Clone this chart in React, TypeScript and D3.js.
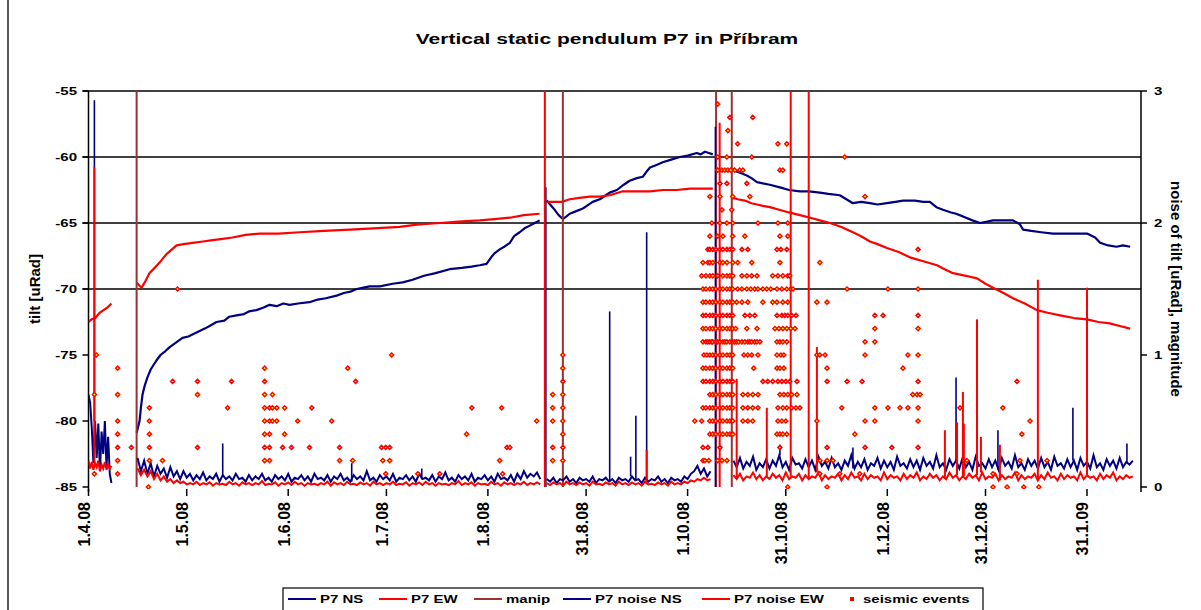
import React from 'react';
import * as d3 from 'd3';

const W = 1201;
const H = 610;

// day offsets are counted from 1.4.2008
const T0 = Date.UTC(2008, 3, 1);
const dayDate = (d: number) => new Date(T0 + d * 86400000);

const title = 'Vertical static pendulum P7 in Příbram';
const xTickLabels = ['1.4.08', '1.5.08', '1.6.08', '1.7.08', '1.8.08', '31.8.08', '1.10.08', '31.10.08', '1.12.08', '31.12.08', '31.1.09'];
const xDomainDays = [0, 321.5];
const leftTicks = [-55, -60, -65, -70, -75, -80, -85];
const gridValues = [-55, -60, -65, -70];
const rightTicks = [0, 1, 2, 3];

// tilt [uRad], [day, value]
const tiltNs: [number, number][][] = [
  [[14.7, -80.9], [15.2, -80.4], [15.6, -80.0], [16.0, -79.0], [16.5, -78.0], [17.2, -77.3], [18.0, -76.7], [19.0, -76.1], [20.0, -75.7], [20.8, -75.4], [22.0, -75.0], [23.5, -74.7], [24.8, -74.4], [26.5, -74.1], [28.7, -73.7], [30.5, -73.6], [33.0, -73.3], [35.5, -73.0], [37.0, -72.8], [39.1, -72.5], [41.5, -72.4], [43.0, -72.1], [45.2, -72.0], [47.5, -71.9], [49.0, -71.7], [51.3, -71.6], [53.5, -71.4], [55.3, -71.2], [57.5, -71.3], [59.5, -71.1], [61.4, -71.2], [64.0, -71.1], [67.5, -71.0], [70.0, -70.8], [72.5, -70.7], [75.8, -70.5], [78.0, -70.3], [80.0, -70.2], [81.9, -70.0], [84.0, -69.9], [85.9, -69.8], [89.0, -69.8], [92.9, -69.6], [96.0, -69.5], [99.0, -69.3], [102.5, -69.0], [106.0, -68.8], [110.3, -68.5], [114.0, -68.4], [117.0, -68.3], [119.5, -68.2], [121.6, -68.1], [123.0, -67.6], [124.0, -67.3], [125.6, -67.0], [127.0, -66.8], [128.7, -66.5], [130.0, -66.0], [131.7, -65.7], [133.2, -65.4], [134.8, -65.2], [136.3, -65.0], [137.8, -64.8]],
  [[140.0, -63.3], [141.0, -63.6], [142.4, -64.0], [143.6, -64.4], [144.9, -64.7], [146.0, -64.5], [147.0, -64.3], [149.0, -64.1], [151.0, -63.9], [152.2, -63.7], [154.0, -63.4], [156.2, -63.2], [158.0, -62.9], [159.2, -62.7], [161.4, -62.5], [163.5, -62.1], [165.3, -61.8], [167.5, -61.6], [169.3, -61.5], [170.5, -61.1], [171.5, -60.8], [173.5, -60.6], [175.4, -60.4], [178.0, -60.2], [180.6, -60.0], [183.0, -59.9], [185.8, -59.7], [187.0, -59.8], [188.3, -59.6], [189.5, -59.7], [190.7, -59.8]],
  [[196.8, -60.9], [198.0, -61.1], [199.0, -61.2], [201.1, -61.4], [202.5, -61.6], [204.2, -61.9], [206.0, -62.0], [208.1, -62.1], [211.2, -62.3], [214.0, -62.5], [217.3, -62.6], [220.0, -62.6], [223.4, -62.7], [226.0, -62.8], [229.5, -62.9], [231.5, -63.2], [233.5, -63.5], [236.0, -63.4], [238.7, -63.5], [241.0, -63.6], [243.9, -63.5], [246.5, -63.4], [248.8, -63.3], [252.4, -63.3], [255.0, -63.4], [257.0, -63.4], [259.0, -63.8], [261.0, -64.0], [263.5, -64.2], [265.0, -64.3], [267.1, -64.5], [270.0, -64.8], [272.3, -65.0], [274.5, -64.9], [276.3, -64.8], [279.5, -64.8], [282.4, -64.8], [284.5, -65.1], [285.5, -65.5], [288.0, -65.6], [291.0, -65.7], [294.6, -65.8], [298.0, -65.8], [301.5, -65.8], [305.0, -65.8], [307.5, -66.1], [309.0, -66.5], [311.5, -66.7], [314.0, -66.8], [316.0, -66.7], [318.2, -66.8]],
];

const tiltEw: [number, number][][] = [
  [[0, -72.5], [0.9, -72.3], [2.1, -72.2], [3.4, -71.8], [4.6, -71.6], [5.8, -71.4], [7.0, -71.1]],
  [[14.7, -69.5], [15.4, -69.7], [16.2, -69.9], [17.4, -69.4], [18.6, -68.8], [20.2, -68.4], [21.7, -68.0], [23.0, -67.6], [24.1, -67.3], [25.5, -67.0], [26.9, -66.7], [29.0, -66.6], [31.8, -66.5], [35.0, -66.4], [37.9, -66.3], [41.0, -66.2], [44.0, -66.1], [48.0, -65.9], [52.3, -65.8], [58.0, -65.8], [64.5, -65.7], [72.0, -65.6], [79.8, -65.5], [87.0, -65.4], [95.0, -65.3], [101.0, -65.1], [107.3, -65.0], [113.0, -64.9], [119.5, -64.8], [124.0, -64.7], [128.7, -64.6], [133.0, -64.4], [137.8, -64.3]],
  [[140.0, -63.4], [142.5, -63.4], [144.6, -63.4], [147.0, -63.2], [150.0, -63.1], [153.1, -63.0], [156.0, -63.0], [159.2, -62.9], [163.2, -62.6], [167.0, -62.6], [171.5, -62.6], [175.5, -62.5], [179.7, -62.5], [183.7, -62.4], [187.0, -62.4], [190.7, -62.4]],
  [[196.9, -63.1], [198.3, -63.2], [200.5, -63.3], [202.5, -63.5], [204.2, -63.6], [206.0, -63.7], [208.1, -63.8], [211.0, -64.0], [214.0, -64.2], [217.3, -64.4], [220.5, -64.6], [223.4, -64.8], [226.5, -65.0], [230.0, -65.3], [233.5, -65.7], [236.0, -66.0], [238.7, -66.4], [241.0, -66.6], [243.9, -66.9], [247.5, -67.2], [250.9, -67.6], [255.0, -67.9], [259.2, -68.2], [261.5, -68.5], [264.1, -68.8], [268.0, -69.0], [271.4, -69.2], [274.0, -69.6], [276.3, -69.9], [279.5, -70.3], [282.4, -70.7], [286.0, -71.1], [289.7, -71.6], [293.0, -71.8], [296.8, -72.0], [301.0, -72.2], [305.0, -72.3], [308.5, -72.5], [312.0, -72.6], [315.0, -72.8], [318.2, -73.0]],
];

// manipulation dates (day offsets)
const manipDays = [14.7, 144.9, 191.7, 196.5];

type NoiseSeg = { start: number; step: number; values: number[] };

// noise of tilt [uRad], right axis
const noiseNs: NoiseSeg[] = [
  { start: 0, step: 0.5, values: [0.7, 0.64, 0.45, 0.18, 0.5, 0.22, 0.48, 0.12, 0.42, 0.25, 0.5, 0.15, 0.38, 0.1, 0.03] },
  { start: 15, step: 1, values: [
    0.22, 0.12, 0.2, 0.1, 0.18, 0.08, 0.16, 0.1, 0.14, 0.07, 0.15, 0.08, 0.12, 0.06, 0.12, 0.07,
    0.1, 0.05, 0.09, 0.06, 0.11, 0.05, 0.08, 0.06, 0.1, 0.04,
    0.09, 0.06, 0.08, 0.05, 0.1, 0.06, 0.07, 0.04, 0.09, 0.05,
    0.08, 0.06, 0.1, 0.05, 0.07, 0.04, 0.09, 0.06, 0.08, 0.05,
    0.1, 0.04, 0.07, 0.06, 0.09, 0.05, 0.08, 0.04, 0.1, 0.06,
    0.07, 0.05, 0.09, 0.04, 0.08, 0.06, 0.1, 0.05, 0.07, 0.04,
    0.09, 0.06, 0.08, 0.05, 0.12, 0.05, 0.07, 0.04, 0.09, 0.06,
    0.08, 0.05, 0.1, 0.04, 0.07, 0.06, 0.09, 0.05, 0.08, 0.04,
    0.1, 0.06, 0.07, 0.05, 0.09, 0.04, 0.08, 0.06, 0.11, 0.05,
    0.07, 0.04, 0.09, 0.06, 0.08, 0.05, 0.1, 0.04, 0.07, 0.06,
    0.09, 0.05, 0.08, 0.04, 0.1, 0.06, 0.07, 0.05, 0.09, 0.04,
    0.1, 0.06, 0.12, 0.07, 0.1, 0.08, 0.11, 0.06] },
  { start: 140, step: 1, values: [
    0.06, 0.04, 0.07, 0.03, 0.06, 0.05, 0.08, 0.04, 0.06, 0.03,
    0.07, 0.05, 0.06, 0.04, 0.08, 0.03, 0.06, 0.05, 0.07, 0.04,
    0.06, 0.03, 0.07, 0.05, 0.06, 0.04, 0.08, 0.05, 0.06, 0.03,
    0.07, 0.04, 0.06, 0.05, 0.08, 0.04, 0.06, 0.03, 0.07, 0.05,
    0.06, 0.04, 0.08, 0.06, 0.1, 0.12, 0.16, 0.1, 0.14, 0.08, 0.12] },
  { start: 197, step: 1, values: [
    0.2, 0.15, 0.22, 0.14, 0.19, 0.16, 0.23, 0.13, 0.18, 0.15,
    0.21, 0.14, 0.2, 0.16, 0.24, 0.15, 0.19, 0.13, 0.22, 0.17,
    0.18, 0.14, 0.21, 0.15, 0.2, 0.13, 0.23, 0.16, 0.19, 0.14,
    0.22, 0.15, 0.18, 0.13, 0.2, 0.16, 0.24, 0.14, 0.19, 0.15,
    0.21, 0.13, 0.18, 0.16, 0.22, 0.14, 0.2, 0.15, 0.19, 0.13,
    0.23, 0.16, 0.18, 0.14, 0.21, 0.15, 0.2, 0.13, 0.22, 0.16,
    0.19, 0.14, 0.24, 0.15, 0.18, 0.13, 0.21, 0.16, 0.2, 0.14,
    0.22, 0.15, 0.19, 0.13, 0.23, 0.16, 0.18, 0.14, 0.21, 0.15,
    0.2, 0.13, 0.22, 0.16, 0.19, 0.14, 0.24, 0.15, 0.18, 0.13,
    0.21, 0.16, 0.2, 0.14, 0.22, 0.15, 0.19, 0.13, 0.23, 0.16,
    0.18, 0.14, 0.21, 0.15, 0.2, 0.13, 0.22, 0.16, 0.19, 0.14,
    0.24, 0.15, 0.18, 0.13, 0.21, 0.16, 0.2, 0.14, 0.22, 0.15,
    0.19, 0.17, 0.2] },
];

const noiseEw: NoiseSeg[] = [
  { start: 0, step: 0.5, values: [0.2, 0.14, 0.19, 0.13, 0.18, 0.15, 0.2, 0.12, 0.17, 0.14, 0.19, 0.13, 0.17, 0.14, 0.16] },
  { start: 15, step: 1, values: [
    0.14, 0.09, 0.13, 0.08, 0.12, 0.06, 0.1, 0.05, 0.08, 0.04, 0.06, 0.03, 0.05, 0.03, 0.04, 0.02,
    0.03, 0.02, 0.04, 0.015, 0.03, 0.02, 0.035, 0.01, 0.03, 0.02,
    0.025, 0.015, 0.04, 0.02, 0.03, 0.01, 0.035, 0.02, 0.03, 0.015,
    0.03, 0.02, 0.045, 0.015, 0.025, 0.02, 0.035, 0.01, 0.03, 0.02,
    0.035, 0.015, 0.04, 0.02, 0.03, 0.01, 0.03, 0.02, 0.025, 0.015,
    0.03, 0.02, 0.04, 0.01, 0.035, 0.02, 0.03, 0.015, 0.04, 0.02,
    0.025, 0.015, 0.035, 0.02, 0.03, 0.01, 0.04, 0.02, 0.03, 0.015,
    0.03, 0.02, 0.04, 0.015, 0.025, 0.02, 0.035, 0.01, 0.03, 0.02,
    0.035, 0.015, 0.04, 0.02, 0.03, 0.01, 0.03, 0.02, 0.025, 0.015,
    0.03, 0.02, 0.045, 0.015, 0.03, 0.02, 0.035, 0.01, 0.03, 0.02,
    0.025, 0.015, 0.04, 0.02, 0.03, 0.01, 0.035, 0.02, 0.03, 0.015,
    0.03, 0.02, 0.04, 0.015, 0.03, 0.02, 0.035, 0.02] },
  { start: 140, step: 1, values: [
    0.03, 0.015, 0.035, 0.02, 0.03, 0.01, 0.04, 0.02, 0.03, 0.015,
    0.035, 0.02, 0.03, 0.01, 0.04, 0.02, 0.025, 0.015, 0.035, 0.02,
    0.03, 0.01, 0.04, 0.02, 0.03, 0.015, 0.035, 0.02, 0.03, 0.01,
    0.04, 0.02, 0.025, 0.015, 0.035, 0.02, 0.03, 0.01, 0.04, 0.02,
    0.03, 0.02, 0.04, 0.03, 0.05, 0.04, 0.06, 0.05, 0.07, 0.05, 0.06] },
  { start: 197, step: 1, values: [
    0.09, 0.06, 0.1, 0.05, 0.08, 0.07, 0.11, 0.06, 0.09, 0.05,
    0.08, 0.06, 0.1, 0.07, 0.09, 0.05, 0.11, 0.06, 0.08, 0.07,
    0.1, 0.05, 0.09, 0.06, 0.08, 0.07, 0.11, 0.05, 0.09, 0.06,
    0.08, 0.07, 0.1, 0.05, 0.09, 0.06, 0.11, 0.07, 0.08, 0.05,
    0.1, 0.06, 0.09, 0.07, 0.08, 0.05, 0.11, 0.06, 0.09, 0.07,
    0.08, 0.05, 0.1, 0.06, 0.09, 0.07, 0.11, 0.05, 0.08, 0.06,
    0.1, 0.07, 0.09, 0.05, 0.08, 0.06, 0.11, 0.07, 0.09, 0.05,
    0.08, 0.06, 0.1, 0.07, 0.09, 0.05, 0.11, 0.06, 0.08, 0.07,
    0.1, 0.05, 0.09, 0.06, 0.08, 0.07, 0.11, 0.05, 0.09, 0.06,
    0.08, 0.07, 0.1, 0.05, 0.09, 0.06, 0.11, 0.07, 0.08, 0.05,
    0.1, 0.06, 0.09, 0.07, 0.08, 0.05, 0.11, 0.06, 0.09, 0.07,
    0.08, 0.05, 0.1, 0.06, 0.09, 0.07, 0.11, 0.05, 0.08, 0.06,
    0.09, 0.07, 0.08] },
];

// short peaks in the noise records: [day, peak]
const noiseNsPeaks: [number, number][] = [[1.8, 2.93], [41.0, 0.33], [80.4, 0.18], [101.8, 0.14], [139.7, 2.27], [159.2, 1.33], [165.6, 0.23], [167.2, 0.54], [170.5, 1.93], [191.5, 2.73], [211.2, 0.32], [233.5, 0.3], [265.0, 0.83], [277.8, 0.43], [300.7, 0.6], [317.2, 0.33]];
const noiseEwPeaks: [number, number][] = [[1.8, 2.42], [139.4, 3.0], [170.5, 0.28], [192.8, 2.76], [198.0, 0.82], [207.2, 0.6], [214.5, 3.0], [220.0, 3.0], [222.5, 1.06], [261.6, 0.43], [265.3, 0.49], [267.1, 0.72], [267.4, 0.48], [271.4, 1.27], [272.6, 0.38], [278.4, 0.32], [290.0, 1.57], [305.0, 1.51]];

// seismic events: [magnitude, days]
const seismicRows: [number, number[]][] = [
  [2.9, [192.2]],
  [2.8, [195.9, 202.9]],
  [2.7, [195.3]],
  [2.6, [198.3, 210.6, 213.3]],
  [2.5, [192.2, 195.0, 202.6, 231.0]],
  [2.4, [192.2, 193.5, 194.4, 195.3, 196.2, 197.4, 198.9, 199.9, 211.2, 212.1]],
  [2.3, [192.9, 195.0, 201.1]],
  [2.2, [189.8, 192.9, 196.8, 202.0, 237.2]],
  [2.1, [193.5, 196.5]],
  [2.0, [190.4, 192.9, 195.0, 196.8, 204.5, 210.6, 213.6]],
  [1.9, [189.8, 192.2, 193.8, 196.8, 200.5, 211.2, 213.6]],
  [1.8, [189.2, 189.8, 190.7, 191.6, 192.9, 193.8, 195.0, 195.9, 196.8, 199.6, 201.4, 210.3, 211.5, 213.3, 253.4]],
  [1.7, [187.7, 189.2, 189.8, 190.7, 192.9, 193.8, 195.0, 196.8, 198.3, 202.6, 211.2, 223.4]],
  [1.6, [187.3, 188.6, 189.8, 190.7, 192.2, 193.8, 195.0, 195.9, 196.8, 199.6, 201.1, 202.6, 204.2, 209.0, 210.6, 212.1, 213.6, 214.2]],
  [1.5, [27.2, 187.7, 188.6, 189.8, 190.7, 191.6, 192.9, 193.8, 195.0, 195.9, 196.8, 198.3, 199.6, 201.1, 202.3, 203.5, 204.5, 206.0, 207.2, 208.4, 210.3, 211.8, 213.3, 214.5, 215.2, 231.7, 244.2, 253.4]],
  [1.4, [187.7, 188.6, 189.8, 190.7, 191.6, 192.9, 193.8, 195.0, 195.9, 196.8, 198.0, 199.6, 201.4, 206.0, 209.0, 210.3, 212.1, 213.6, 222.5, 225.6]],
  [1.3, [187.7, 188.6, 189.8, 190.7, 191.6, 192.9, 193.8, 195.0, 195.9, 196.8, 200.5, 202.0, 203.5, 210.3, 211.8, 212.7, 213.6, 214.8, 216.1, 240.2, 242.7, 253.4]],
  [1.2, [187.7, 188.6, 189.8, 190.7, 191.6, 192.9, 193.8, 195.0, 195.9, 196.8, 197.7, 201.1, 204.2, 209.7, 210.9, 212.1, 213.3, 214.5, 215.8, 240.2, 253.4]],
  [1.1, [187.7, 188.6, 189.2, 189.8, 190.4, 190.7, 191.6, 192.2, 192.9, 193.8, 194.4, 195.0, 195.9, 196.8, 197.4, 198.0, 198.6, 199.6, 200.5, 201.4, 202.0, 202.6, 203.5, 204.2, 205.1, 210.3, 211.2, 212.1, 213.3, 237.2, 240.2]],
  [1.0, [2.4, 92.6, 144.9, 188.0, 188.9, 189.8, 190.7, 191.6, 192.9, 193.8, 195.0, 195.9, 196.8, 200.2, 201.4, 202.6, 204.5, 210.3, 211.5, 212.4, 222.5, 223.4, 225.0, 237.2, 250.3, 253.4]],
  [0.9, [8.9, 53.8, 79.2, 144.9, 187.7, 188.6, 189.8, 190.7, 191.6, 192.9, 193.8, 195.0, 195.9, 196.8, 203.2, 210.3, 211.2, 212.4, 225.6, 248.8]],
  [0.8, [25.7, 33.3, 43.7, 53.8, 81.6, 144.9, 187.7, 188.6, 189.8, 190.7, 191.6, 192.9, 193.8, 195.0, 195.9, 196.8, 206.0, 207.5, 209.0, 210.6, 211.8, 213.0, 214.2, 216.4, 225.6, 231.7, 236.3, 253.4, 283.6]],
  [0.7, [1.8, 8.9, 33.3, 53.8, 56.2, 141.8, 144.9, 189.8, 190.7, 191.6, 192.9, 193.8, 195.0, 195.9, 196.8, 199.9, 201.4, 202.9, 204.5, 211.2, 212.4, 213.6, 214.8, 216.4, 251.8, 253.1, 254.0]],
  [0.6, [18.6, 42.5, 53.8, 55.3, 56.2, 57.5, 59.9, 68.2, 117.1, 126.2, 141.8, 144.9, 187.7, 188.6, 189.8, 190.7, 191.6, 192.9, 193.8, 195.0, 195.9, 196.8, 199.9, 201.4, 202.9, 204.5, 210.6, 212.1, 213.3, 214.8, 216.1, 217.3, 230.1, 240.2, 244.2, 247.9, 250.3, 253.4, 266.2, 279.3]],
  [0.5, [8.9, 18.6, 53.8, 55.3, 56.2, 57.5, 63.9, 74.3, 136.9, 141.8, 144.9, 185.2, 187.3, 189.8, 190.7, 191.6, 192.9, 193.8, 195.0, 195.9, 196.8, 199.9, 201.4, 202.9, 210.6, 211.8, 213.0, 222.5, 237.2, 240.2, 253.4, 287.6]],
  [0.4, [8.9, 18.6, 53.8, 55.3, 59.9, 115.5, 144.9, 189.8, 190.7, 191.6, 192.9, 193.8, 195.0, 195.9, 196.8, 210.3, 211.2, 212.1, 213.3, 234.1, 285.1]],
  [0.3, [8.9, 13.1, 18.6, 33.3, 53.8, 55.3, 59.3, 62.0, 67.5, 76.7, 89.5, 90.8, 92.0, 127.8, 128.7, 141.8, 144.9, 187.7, 189.2, 192.9, 211.2, 225.6, 237.2, 245.4, 253.4]],
  [0.2, [8.9, 18.6, 22.6, 53.8, 55.3, 76.7, 80.7, 89.9, 92.0, 125.6, 141.8, 144.9, 187.7, 188.3, 189.5, 192.2, 193.5, 195.0, 223.4, 225.6, 227.4, 268.3, 284.5, 292.8]],
  [0.1, [1.8, 8.9, 90.8, 100.6, 107.3, 126.5, 223.4, 229.5, 235.6, 276.3, 283.6]],
  [0.0, [18.3, 213.6, 225.6, 276.3, 280.6, 285.7, 290.3]],
];

const legendItems = [
  { label: 'P7  NS', color: '#000080', kind: 'line', w: 46 },
  { label: 'P7  EW', color: '#ff0000', kind: 'line', w: 50 },
  { label: 'manip', color: '#993333', kind: 'line', w: 44 },
  { label: 'P7  noise  NS', color: '#000080', kind: 'line', w: 94 },
  { label: 'P7  noise  EW', color: '#ff0000', kind: 'line', w: 98 },
  { label: 'seismic events', color: '#ff0000', kind: 'dot', w: 108 },
];

const FONT = '"Liberation Sans", Arial, sans-serif';
const SQ = 0.7; // horizontal captions look vertically squashed

const labelDate = (s: string) => {
  const [d, m, y] = s.split('.').map(Number);
  return new Date(Date.UTC(2000 + y, m - 1, d));
};

const segPoints = (s: NoiseSeg) => s.values.map((v, i) => [s.start + i * s.step, v] as [number, number]);

const baseAt = (segs: NoiseSeg[], day: number) => {
  for (const s of segs) {
    const end = s.start + (s.values.length - 1) * s.step;
    if (day >= s.start && day <= end) return s.values[Math.round((day - s.start) / s.step)];
  }
  return 0;
};

function HText({ x, y, anchor = 'start', size = 15, children }: any) {
  return (
    <text transform={`translate(${x},${y}) scale(1,${SQ})`} textAnchor={anchor} fontSize={size} fontWeight="bold" fontFamily={FONT} fill="#000">
      {children}
    </text>
  );
}

export default function App() {
  const left = 88.5, right = 1141, top = 91, bottom = 487;

  const x = d3.scaleUtc().domain([dayDate(xDomainDays[0]), dayDate(xDomainDays[1])]).range([left, right]);
  const yL = d3.scaleLinear().domain([-85, -55]).range([bottom, top]);
  const yR = d3.scaleLinear().domain([0, 3]).range([bottom, top]);

  const lineL = d3.line<[number, number]>().x(d => x(dayDate(d[0]))).y(d => yL(d[1]));
  const lineR = d3.line<[number, number]>().x(d => x(dayDate(d[0]))).y(d => yR(d[1]));

  const diamond = 'M0,-2.1L2.1,0L0,2.1L-2.1,0Z';

  let lx = 288;
  const legendLayout = legendItems.map(it => {
    const sx = lx;
    const sampleW = it.kind === 'line' ? 28 : 14;
    lx += sampleW + 4 + it.w + 13;
    return { ...it, sx, sampleW };
  });

  return (
    <svg width={W} height={H} style={{ position: 'absolute', left: 0, top: 0, background: '#fff' }}>
      <defs>
        <clipPath id="plot">
          <rect x={left} y={top - 1} width={right - left} height={bottom - top + 3} />
        </clipPath>
      </defs>
      <rect x={0} y={0} width={W} height={H} fill="#fff" />
      <line x1={8} x2={8} y1={0} y2={H} stroke="#222" strokeWidth={1.5} />

      <HText x={607} y={44} anchor="middle" size={21}>{title}</HText>

      {/* grid */}
      {gridValues.map(v => (
        <line key={v} x1={left - 6} x2={right} y1={yL(v)} y2={yL(v)} stroke="#000" strokeWidth={1.5} />
      ))}

      {/* left axis */}
      <line x1={left} x2={left} y1={top} y2={bottom + 5} stroke="#000" strokeWidth={1.5} />
      {leftTicks.map(v => (
        <g key={v}>
          <line x1={left - 6} x2={left} y1={yL(v)} y2={yL(v)} stroke="#000" strokeWidth={1.5} />
          <HText x={77} y={yL(v) + 3.8} anchor="end">{String(v)}</HText>
        </g>
      ))}
      <text transform={`translate(40,${(top + bottom) / 2}) rotate(-90)`} textAnchor="middle" fontSize={15} fontWeight="bold" fontFamily={FONT}>tilt [uRad]</text>

      {/* right axis */}
      <line x1={right} x2={right} y1={top} y2={bottom + 5} stroke="#000" strokeWidth={1.5} />
      {rightTicks.map(v => (
        <g key={v}>
          <line x1={right} x2={right + 6} y1={yR(v)} y2={yR(v)} stroke="#000" strokeWidth={1.5} />
          <HText x={1154} y={yR(v) + 3.8}>{String(v)}</HText>
        </g>
      ))}
      <text transform={`translate(1171,${(top + bottom) / 2}) rotate(90)`} textAnchor="middle" fontSize={15} fontWeight="bold" fontFamily={FONT}>noise of tilt [uRad], magnitude</text>

      {/* x ticks */}
      {xTickLabels.map(s => {
        const px = x(labelDate(s));
        return (
          <g key={s}>
            <line x1={px} x2={px} y1={bottom + 2} y2={bottom + 9} stroke="#000" strokeWidth={1.5} />
            <text transform={`translate(${px + 1.5},502) rotate(-90)`} textAnchor="end" fontSize={16} fontWeight="bold" fontFamily={FONT}>{s}</text>
          </g>
        );
      })}

      <g clipPath="url(#plot)">
        {tiltNs.map((seg, i) => (
          <path key={'ns' + i} d={lineL(seg) || ''} fill="none" stroke="#000080" strokeWidth={2.2} strokeLinejoin="round" />
        ))}
        {tiltEw.map((seg, i) => (
          <path key={'ew' + i} d={lineL(seg) || ''} fill="none" stroke="#ff0000" strokeWidth={2.2} strokeLinejoin="round" />
        ))}
        {manipDays.map(d => (
          <line key={'m' + d} x1={x(dayDate(d))} x2={x(dayDate(d))} y1={yL(-85)} y2={yL(-55)} stroke="#993333" strokeWidth={2} />
        ))}

        {noiseNs.map((s, i) => (
          <path key={'nn' + i} d={lineR(segPoints(s)) || ''} fill="none" stroke="#000080" strokeWidth={2} />
        ))}
        {noiseNsPeaks.map(([d, v]) => (
          <line key={'pn' + d} x1={x(dayDate(d))} x2={x(dayDate(d))} y1={yR(baseAt(noiseNs, d))} y2={yR(v)} stroke="#000080" strokeWidth={1.6} />
        ))}
        {noiseEw.map((s, i) => (
          <path key={'ne' + i} d={lineR(segPoints(s)) || ''} fill="none" stroke="#ff0000" strokeWidth={2} />
        ))}
        {noiseEwPeaks.map(([d, v]) => (
          <line key={'pe' + d} x1={x(dayDate(d))} x2={x(dayDate(d))} y1={yR(baseAt(noiseEw, d))} y2={yR(v)} stroke="#ff0000" strokeWidth={2} />
        ))}

        {seismicRows.map(([m, days]) =>
          days.map(d => (
            <path key={m + '-' + d} d={diamond} transform={`translate(${x(dayDate(d))},${yR(m)})`} fill="#ffff00" stroke="#ff0000" strokeWidth={1.4} />
          ))
        )}
      </g>

      {/* legend */}
      <rect x={283} y={588} width={700} height={30} fill="#fff" stroke="#000" strokeWidth={1.2} />
      {legendLayout.map(it => (
        <g key={it.label}>
          {it.kind === 'line' ? (
            <line x1={it.sx} x2={it.sx + it.sampleW} y1={599} y2={599} stroke={it.color} strokeWidth={2} />
          ) : (
            <rect x={it.sx + it.sampleW / 2 - 2} y={597} width={4} height={4} fill={it.color} />
          )}
          <HText x={it.sx + it.sampleW + 4} y={603}>{it.label}</HText>
        </g>
      ))}
    </svg>
  );
}
